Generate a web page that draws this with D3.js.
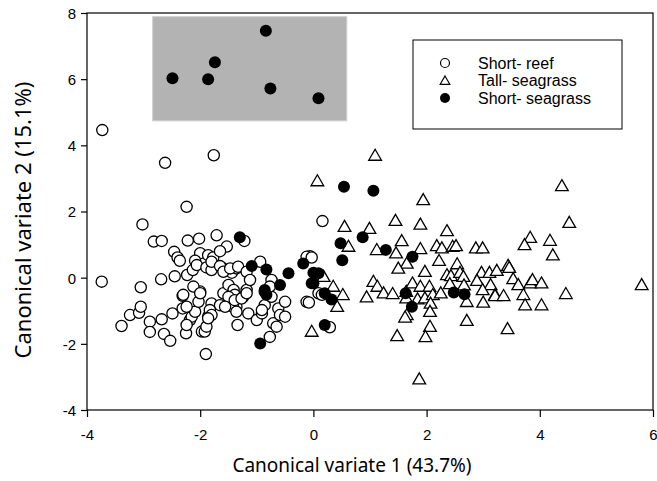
<!DOCTYPE html>
<html>
<head>
<meta charset="utf-8">
<script src="https://d3js.org/d3.v7.min.js"></script>
<style>
  body { margin: 0; background: #fff; }
  svg { display: block; }
  .tick text { font-family: "Liberation Sans", Arial, sans-serif; font-size: 15px; fill: #000; }
</style>
</head>
<body>
<svg width="657" height="481"></svg>
<script>
// canonical scores [cv1, cv2]
const shortReef = [
  [-3.73,4.46],[-2.62,3.47],[-1.76,3.70],[0.16,1.71],
  [-2.24,2.14],[-3.02,1.61],[-2.82,1.09],[-2.68,1.11],[-2.22,1.12],[-2.02,1.18],
  [-1.71,1.28],[-1.22,1.11],[-1.53,0.94],[-2.46,0.78],[-2.40,0.61],[-2.36,0.51],
  [-2.00,0.74],[-1.86,0.68],[-1.77,0.61],[-1.65,0.80],[-2.09,0.51],[-0.94,0.48],
  [-0.06,0.65],[-0.12,0.63],[-0.03,0.61],[-3.74,-0.12],[-3.05,-0.29],[-2.69,-0.05],
  [-2.45,0.04],[-2.23,0.08],[-2.13,0.23],[-2.06,0.38],[-1.89,0.31],[-1.80,0.23],
  [-1.62,0.31],[-1.53,0.23],[-1.44,0.15],[-1.36,0.28],[-1.80,0.48],[-1.65,0.35],
  [-1.59,0.18],[-1.47,0.28],[-1.33,0.33],[-1.18,0.18],
  [-1.90,-2.31],[-3.39,-1.46],[-3.24,-1.13],[-3.08,-1.06],[-3.05,-0.88],
  [-2.89,-1.33],[-2.89,-1.64],[-2.68,-1.26],[-2.64,-1.70],[-2.53,-1.91],
  [-2.49,-1.08],[-2.31,-0.55],[-2.31,-0.93],[-2.25,-1.68],[-2.18,-1.28],[-2.15,-1.18],
  [-2.09,-1.03],[-2.03,-0.73],[-2.00,-0.42],[-2.12,-0.27],[-1.97,-1.63],[-1.92,-1.63],
  [-1.89,-1.48],[-1.86,-1.18],[-1.83,-1.08],[-1.80,-0.78],[-1.65,-0.83],[-1.59,-0.47],
  [-1.50,-0.22],[-1.41,-0.37],[-1.39,-0.52],[-1.36,-0.88],[-1.34,-1.43],[-1.42,-0.88],
  [-1.24,-0.58],[-1.18,-0.37],[-1.12,-0.07],[-1.15,-1.08],[-1.00,-1.28],[-0.91,-1.08],
  [-0.86,-0.83],[-0.74,-0.58],[-0.74,-0.07],[-0.71,-1.38],[-0.65,-1.48],[-0.62,-0.93],
  [-0.59,-1.13],[-0.50,-0.73],[-0.50,-1.18],[-0.77,-1.79],[-0.12,-0.73],[-0.08,-0.75],
  [0.09,-0.47],[0.15,-0.52],[0.29,-1.50],[-2.30,-0.52],[-2.24,-0.88],[-2.24,-1.43],
  [-2.00,-0.47],[-1.83,-0.98],[-1.80,-1.13],[-1.86,-1.23],[-1.50,-0.58],[-1.39,-0.68],
  [-1.27,-0.63],[-1.18,-0.47],[-1.56,-0.88],[-1.36,-1.03],[-0.91,-0.98],[-0.86,-0.42],
  [-0.77,-0.27]
];

const tallSeagrass = [
  [0.07,2.92],[1.09,3.69],[1.94,2.35],[1.45,1.72],[1.89,1.61],[0.55,1.54],[0.99,1.48],
  [2.36,1.41],[1.56,1.11],[0.62,0.94],[1.12,0.84],[1.46,0.74],[1.89,0.87],[2.18,0.96],
  [2.27,0.89],[2.46,0.94],[2.52,0.96],[2.87,0.89],[2.99,0.89],[2.22,0.51],[2.54,0.41],
  [1.65,0.43],[1.50,0.28],[1.97,0.18],[2.36,0.08],[2.43,0.05],[2.59,0.15],[2.65,0.03],
  [2.97,0.15],[3.11,0.15],[3.24,0.21],[2.89,-0.09],[3.13,-0.22],[2.99,-0.37],[3.21,-0.52],
  [1.06,-0.12],[1.13,-0.27],[1.24,-0.47],[1.40,-0.49],[0.94,-0.59],[1.64,-0.42],[1.75,-0.17],
  [1.89,-0.27],[2.05,-0.27],[1.64,-0.62],[1.84,-0.65],[1.97,-0.62],[2.11,-0.52],[2.25,-0.47],
  [2.07,-0.78],[2.41,-0.19],[2.66,-0.23],[2.71,-0.73],[3.00,-0.75],[0.35,-0.27],[0.52,-0.52],
  [0.42,-0.88],[1.65,-1.13],[1.62,-1.20],[2.06,-1.03],[2.06,-1.48],[1.98,-1.79],[1.48,-1.76],
  [2.71,-1.30],[-0.03,-1.63],[1.87,-3.07],[0.18,0.03],
  [4.39,2.77],[4.52,1.66],[3.83,1.21],[3.73,0.99],[4.18,1.12],[4.23,0.68],[3.44,0.36],
  [3.46,0.30],[3.53,-0.04],[3.62,-0.22],[3.83,-0.17],[3.87,-0.07],[4.03,-0.17],[3.21,-0.55],
  [3.36,-0.55],[3.71,-0.52],[4.46,-0.49],[5.80,-0.22],[3.74,-0.83],[4.03,-0.83],[3.43,-1.55]
];

const shortSeagrass = [
  [-2.49,6.03],[-1.86,6.00],[-1.74,6.51],[-0.84,7.46],[-0.76,5.72],[0.09,5.42],
  [0.54,2.75],[1.06,2.63],[-1.30,1.22],[-1.09,0.35],[-0.83,0.25],[-0.44,0.13],
  [-0.18,0.43],[0.00,0.15],[0.00,-0.17],[-0.59,-0.22],[-0.86,-0.37],[-0.83,-0.52],
  [-0.94,-1.99],[0.87,1.22],[0.48,1.04],[0.51,0.53],[1.28,0.84],[1.75,0.63],
  [0.09,0.13],[-0.03,-0.17],[0.20,-0.47],[0.32,-0.66],[1.63,-0.47],[1.74,-0.88],
  [2.48,-0.45],[2.67,-0.50],[0.20,-1.43]
];

// highlighted group (data units)
const boxX = [-2.84, 0.59];
const boxY = [4.74, 7.89];

const xTicks = [-4, -2, 0, 2, 4, 6];
const yTicks = [-4, -2, 0, 2, 4, 6, 8];

const legendItems = [
  { label: "Short- reef", kind: "circle" },
  { label: "Tall- seagrass", kind: "triangle" },
  { label: "Short- seagrass", kind: "dot" }
];

const svg = d3.select("svg");
const margin = { top: 13, right: 4, bottom: 71, left: 87 };
const width = +svg.attr("width") - margin.left - margin.right;
const height = +svg.attr("height") - margin.top - margin.bottom;

const x = d3.scaleLinear().domain([-4, 6]).range([0, width]);
const y = d3.scaleLinear().domain([-4, 8]).range([height, 0]);

const g = svg.append("g").attr("transform", `translate(${margin.left},${margin.top})`);

// shaded box
g.append("rect")
  .attr("x", x(boxX[0])).attr("y", y(boxY[1]))
  .attr("width", x(boxX[1]) - x(boxX[0]))
  .attr("height", y(boxY[0]) - y(boxY[1]))
  .attr("fill", "#b3b3b3")
  .attr("stroke", "#d0d0d0")
  .attr("stroke-width", 1);

const tri = d3.symbol().type(d3.symbolTriangle).size(70);

g.append("g").selectAll("circle").data(shortReef).join("circle")
  .attr("cx", d => x(d[0])).attr("cy", d => y(d[1]))
  .attr("r", 5.6)
  .attr("fill", "#fff").attr("stroke", "#000").attr("stroke-width", 1.3);

g.append("g").selectAll("path").data(tallSeagrass).join("path")
  .attr("transform", d => `translate(${x(d[0])},${y(d[1]) + 1})`)
  .attr("d", tri)
  .attr("fill", "#fff").attr("stroke", "#000").attr("stroke-width", 1.3);

g.append("g").selectAll("circle").data(shortSeagrass).join("circle")
  .attr("cx", d => x(d[0])).attr("cy", d => y(d[1]))
  .attr("r", 6)
  .attr("fill", "#000");

// frame
g.append("rect")
  .attr("width", width).attr("height", height)
  .attr("fill", "none").attr("stroke", "#000").attr("stroke-width", 1.2);

const fmt = d => String(d);  // plain hyphen, like the original
const xAxis = g.append("g").attr("transform", `translate(0,${height})`)
  .call(d3.axisBottom(x).tickValues(xTicks).tickSize(7).tickPadding(12).tickFormat(fmt));
const yAxis = g.append("g")
  .call(d3.axisLeft(y).tickValues(yTicks).tickSize(6).tickPadding(5).tickFormat(fmt));
[xAxis, yAxis].forEach(a => {
  a.select(".domain").remove();
  a.selectAll(".tick line").attr("stroke", "#000").attr("stroke-width", 1.2);
});
yAxis.selectAll(".tick text").attr("dy", "0.36em");

// axis titles
svg.append("text")
  .attr("x", 352).attr("y", 472)
  .attr("text-anchor", "middle")
  .style("font-family", "'Noto Sans', 'Open Sans', sans-serif")
  .style("font-size", "19px")
  .text("Canonical variate 1 (43.7%)");

svg.append("text")
  .attr("transform", "translate(31,220) rotate(-90)")
  .attr("text-anchor", "middle")
  .style("font-family", "'Noto Sans', 'Open Sans', sans-serif")
  .style("font-size", "22px")
  .text("Canonical variate 2 (15.1%)");

// legend
const lg = svg.append("g");
lg.append("rect")
  .attr("x", 413).attr("y", 40).attr("width", 209).attr("height", 89)
  .attr("fill", "#fff").attr("stroke", "#000").attr("stroke-width", 1);

const row = lg.selectAll("g.item").data(legendItems).join("g")
  .attr("class", "item")
  .attr("transform", (d, i) => `translate(445,${63 + i * 17.5})`);

row.each(function (d) {
  const s = d3.select(this);
  if (d.kind === "triangle") {
    s.append("path").attr("d", d3.symbol().type(d3.symbolTriangle).size(40)).attr("transform", "translate(0,1)")
      .attr("fill", "#fff").attr("stroke", "#000").attr("stroke-width", 1.2);
  } else {
    s.append("circle").attr("r", d.kind === "dot" ? 5 : 4.5)
      .attr("fill", d.kind === "dot" ? "#000" : "#fff")
      .attr("stroke", "#000").attr("stroke-width", d.kind === "dot" ? 0 : 1.2);
  }
});

row.append("text")
  .attr("x", 33).attr("dy", "0.35em")
  .style("font-family", "'Liberation Sans', Arial, sans-serif")
  .style("font-size", "16px")
  .text(d => d.label);
</script>
</body>
</html>
